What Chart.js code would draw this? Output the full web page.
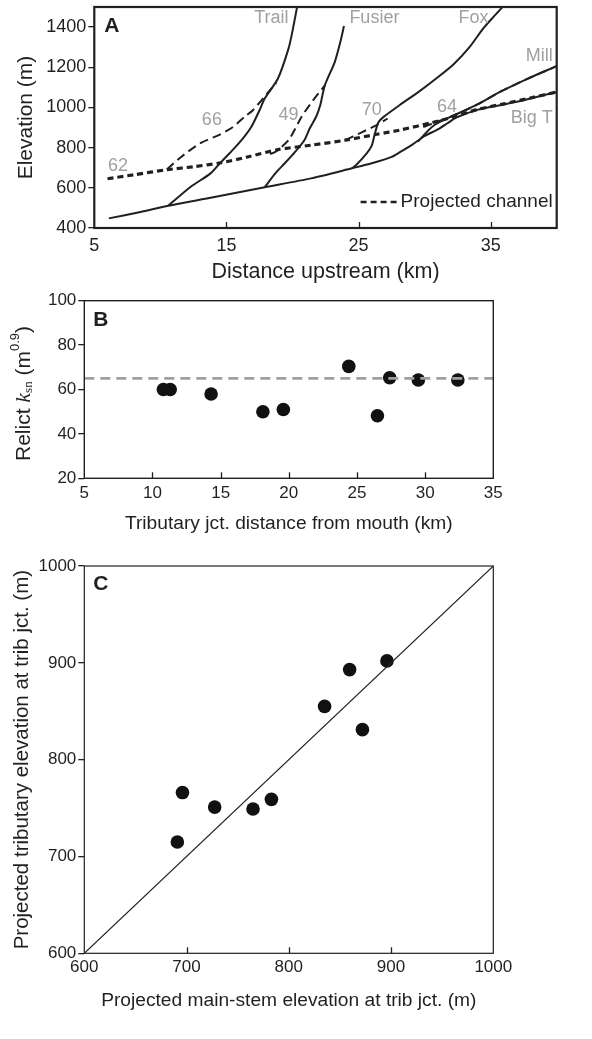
<!DOCTYPE html>
<html>
<head>
<meta charset="utf-8">
<script src="https://cdn.jsdelivr.net/npm/chart.js@4.4.1/dist/chart.umd.min.js"></script>
<style>
  html, body { margin: 0; padding: 0; background: #fff; }
  body { position: relative; width: 592px; height: 1039px; overflow: hidden; }
  canvas { position: absolute; left: 0; }
</style>
</head>
<body>
<canvas id="chartA" width="592" height="290" style="top:0"></canvas>
<canvas id="chartB" width="592" height="255" style="top:285px"></canvas>
<canvas id="chartC" width="592" height="499" style="top:540px"></canvas>
<script>
// Panel A: long profiles, [distance upstream (km), elevation (m)]
const mainStem = [[6.1,448],[8.5,480],[10.6,511],[14,553],[17.9,603],[21.4,647],[24.5,697],[26,722],[27.5,754],[28.1,776],[29.1,816],[30,858],[30.9,887],[31.7,920],[32.4,950],[34,988],[35.7,1011],[37.5,1036],[40,1077]];
const trail = [[10.6,511],[12.3,605],[13.8,672],[14.6,729],[15.5,790],[16.3,850],[16.9,905],[17.5,985],[17.9,1044],[18.9,1144],[19.7,1293],[20.0,1380],[20.35,1500]];
const fusier = [[17.9,603],[18.7,672],[19.4,721],[20.2,779],[20.9,837],[21.3,895],[21.8,955],[22.1,1011],[22.45,1110],[23.2,1226],[23.6,1320],[23.9,1405]];
const fox = [[24.5,697],[24.8,712],[25.6,770],[26.0,810],[26.2,860],[26.5,925],[26.9,953],[28.1,1011],[29.6,1080],[31.0,1150],[32.2,1215],[33.4,1300],[34.4,1390],[35.2,1450],[35.9,1500]];
const mill = [[29.5,830],[30.3,887],[30.8,915],[31.5,940],[32.2,960],[34,1015],[35.7,1077],[37.7,1140],[40,1206]];
const projMain = [[6,645],[8,665],[10.5,690],[12.5,705],[14.6,725],[16.5,752],[18.9,790],[21.4,812],[24,837],[26.5,868],[28.1,887],[30.6,925],[32.2,953],[34,990],[36,1018],[38,1047],[40,1077]];
const proj66 = [[10.5,692],[11.5,750],[13,821],[14.5,865],[15.5,903],[16.4,955],[17,986],[18.4,1094],[18.8,1120]];
const proj49 = [[18.3,768],[18.7,779],[19.7,837],[20.7,955],[21.5,1030],[22.45,1110]];
const proj70 = [[24,837],[25.2,875],[26.3,910],[27.2,945]];
const proj64 = [[29.9,903],[31,930],[32.2,960],[34,1015],[35.7,1077],[37.7,1140],[40,1206]];
const aTicksX = [5, 15, 25, 35];
const aTicksY = [400, 600, 800, 1000, 1200, 1400];

// Panel B: relict ksn vs tributary junction distance
const bDist = [10.8, 11.3, 14.3, 18.1, 19.6, 24.4, 26.5, 27.4, 29.5, 32.4];
const bKsn = [60, 60, 58, 50, 51, 70.4, 48.2, 65.3, 64.3, 64.3];
const bMeanKsn = 65;
const bTicksX = [5, 10, 15, 20, 25, 30, 35];
const bTicksY = [20, 40, 60, 80, 100];

// Panel C: projected elevations at tributary junctions
const cMain = [691, 696, 727.5, 765, 783, 835, 859.5, 872, 896];
const cTrib = [715, 766, 751, 749, 759, 855, 893, 831, 902];
const cTicks = [600, 700, 800, 900, 1000];

const FONT = '"Liberation Sans", Arial, Helvetica, sans-serif';
const INK = '#231f20';
const GREY = '#a0a0a0';

function fixBox(size, horizontal) {
  return function(scale) {
    if (horizontal) { scale.height = size; scale.paddingLeft = 0; scale.paddingRight = 0; }
    else { scale.width = size; scale.paddingTop = 0; scale.paddingBottom = 0; }
  };
}
function useTicks(values) {
  return function(scale) { scale.ticks = values.map(v => ({ value: v })); };
}

// frame, inward x ticks and panel letter
const framePlugin = {
  id: 'frame',
  afterDraw(chart, args, opts) {
    const { ctx, chartArea: a, scales } = chart;
    ctx.save();
    ctx.strokeStyle = INK;
    ctx.lineWidth = opts.width;
    ctx.strokeRect(a.left, a.top, a.right - a.left, a.bottom - a.top);
    ctx.lineWidth = 1.3;
    (opts.innerTicks || []).forEach(v => {
      const x = Math.round(scales.x.getPixelForValue(v)) + 0.5;
      ctx.beginPath();
      ctx.moveTo(x, a.bottom);
      ctx.lineTo(x, a.bottom - 6);
      ctx.stroke();
    });
    ctx.fillStyle = INK;
    ctx.font = 'bold 21px ' + FONT;
    ctx.textBaseline = 'alphabetic';
    ctx.fillText(opts.letter, a.left + opts.dx, a.top + opts.dy);
    ctx.restore();
  }
};

// grey stream names / ksn values and the legend of panel A
const aNotes = [
  { t: 'Trail', x: 18.4, y: 1445, align: 'center' },
  { t: 'Fusier', x: 26.2, y: 1445, align: 'center' },
  { t: 'Fox', x: 33.7, y: 1445, align: 'center' },
  { t: 'Mill', x: 39.7, y: 1258, align: 'right' },
  { t: 'Big T', x: 39.7, y: 945, align: 'right' },
  { t: '62', x: 6.8, y: 706, align: 'center' },
  { t: '66', x: 13.9, y: 937, align: 'center' },
  { t: '49', x: 19.7, y: 962, align: 'center' },
  { t: '70', x: 26.0, y: 987, align: 'center' },
  { t: '64', x: 31.7, y: 1004, align: 'center' }
];
const notesPlugin = {
  id: 'notes',
  afterDraw(chart) {
    const { ctx, chartArea: a, scales } = chart;
    ctx.save();
    ctx.fillStyle = GREY;
    ctx.font = '18px ' + FONT;
    ctx.textBaseline = 'middle';
    aNotes.forEach(n => {
      ctx.textAlign = n.align;
      ctx.fillText(n.t, scales.x.getPixelForValue(n.x), scales.y.getPixelForValue(n.y));
    });
    // legend
    const ly = a.bottom - 26;
    ctx.fillStyle = INK;
    ctx.textAlign = 'right';
    ctx.font = '19px ' + FONT;
    const label = 'Projected channel';
    const tx = a.right - 4;
    ctx.fillText(label, tx, ly);
    const w = ctx.measureText(label).width;
    ctx.strokeStyle = INK;
    ctx.lineWidth = 2.5;
    ctx.setLineDash([6, 4]);
    ctx.beginPath();
    ctx.moveTo(tx - w - 40, ly);
    ctx.lineTo(tx - w - 3, ly);
    ctx.stroke();
    ctx.restore();
  }
};

// B y-axis title with italic k, subscript and superscript
const bTitlePlugin = {
  id: 'btitle',
  afterDraw(chart) {
    const { ctx, chartArea: a } = chart;
    const parts = [
      { t: 'Relict ', f: '21px ' + FONT, dy: 0 },
      { t: 'k', f: 'italic 22px "Liberation Serif", serif', dy: 0 },
      { t: 'sn', f: '13px "Liberation Serif", serif', dy: 5 },
      { t: ' (m', f: '21px ' + FONT, dy: 0 },
      { t: '0.9', f: '13px ' + FONT, dy: -9 },
      { t: ')', f: '21px ' + FONT, dy: 0 }
    ];
    ctx.save();
    let total = 0;
    parts.forEach(p => { ctx.font = p.f; p.w = ctx.measureText(p.t).width; total += p.w; });
    ctx.translate(24, (a.top + a.bottom) / 2 + 4);
    ctx.rotate(-Math.PI / 2);
    ctx.fillStyle = INK;
    ctx.textBaseline = 'middle';
    let x = -total / 2;
    parts.forEach(p => {
      ctx.font = p.f;
      ctx.fillText(p.t, x, p.dy);
      x += p.w;
    });
    ctx.restore();
  }
};

function lineSet(data, width, dash) {
  return { data: data, borderColor: INK, borderWidth: width, borderDash: dash || [],
           pointRadius: 0, fill: false, tension: 0.25, borderCapStyle: 'butt' };
}

function yAxis(min, max, ticks, width, fontSize, title) {
  return {
    type: 'linear', min: min, max: max,
    afterFit: fixBox(width, false),
    afterBuildTicks: useTicks(ticks),
    border: { display: false },
    grid: { drawOnChartArea: false, drawTicks: true, tickLength: 6, color: INK, lineWidth: 1.3 },
    ticks: { color: INK, padding: 2, font: { family: FONT, size: fontSize }, callback: v => String(v) },
    title: title
  };
}
function xAxis(min, max, ticks, height, fontSize, pad, title) {
  return {
    type: 'linear', min: min, max: max,
    afterFit: fixBox(height, true),
    afterBuildTicks: useTicks(ticks),
    border: { display: false },
    grid: { display: false, drawTicks: false },
    ticks: { color: INK, padding: pad, maxRotation: 0, font: { family: FONT, size: fontSize }, callback: v => String(v) },
    title: title
  };
}

const common = { responsive: false, animation: false, devicePixelRatio: 1 };

new Chart(document.getElementById('chartA'), {
  type: 'line',
  data: {
    datasets: [
      lineSet(mainStem, 2), lineSet(trail, 2), lineSet(fusier, 2), lineSet(fox, 2), lineSet(mill, 2),
      lineSet(proj66, 2, [9, 5]), lineSet(proj49, 2, [9, 5]), lineSet(proj70, 2, [9, 5]), lineSet(proj64, 2, [9, 5]),
      lineSet(projMain, 3.2, [6, 4])
    ]
  },
  options: Object.assign({}, common, {
    layout: { padding: { left: 0, right: 35.3, top: 7, bottom: 0 } },
    plugins: { legend: { display: false }, tooltip: { enabled: false },
      frame: { width: 2.2, innerTicks: [15, 25, 35], letter: 'A', dx: 10, dy: 25 } },
    scales: {
      x: xAxis(5, 40, aTicksX, 62, 18, 7,
        { display: true, text: 'Distance upstream (km)', color: INK, font: { family: FONT, size: 21.5 }, padding: { top: 0, bottom: 5 } }),
      y: yAxis(400, 1500, aTicksY, 94.3, 18,
        { display: true, text: 'Elevation (m)', color: INK, font: { family: FONT, size: 21 }, padding: { top: 14, bottom: 0 } })
    }
  }),
  plugins: [framePlugin, notesPlugin]
});

new Chart(document.getElementById('chartB'), {
  type: 'scatter',
  data: {
    datasets: [
      { type: 'line', data: [{ x: 5, y: bMeanKsn }, { x: 35, y: bMeanKsn }], borderColor: GREY, borderWidth: 2.8,
        borderDash: [10, 6], pointRadius: 0 },
      { data: bDist.map((d, i) => ({ x: d, y: bKsn[i] })), backgroundColor: '#111', borderWidth: 0, pointRadius: 6.8 }
    ]
  },
  options: Object.assign({}, common, {
    layout: { padding: { left: 0, right: 98.7, top: 15.7, bottom: 0 } },
    plugins: { legend: { display: false }, tooltip: { enabled: false },
      frame: { width: 1.4, innerTicks: [10, 15, 20, 25, 30], letter: 'B', dx: 9, dy: 25 } },
    scales: {
      x: xAxis(5, 35, bTicksX, 61.7, 17, 5,
        { display: true, text: 'Tributary jct. distance from mouth (km)', color: INK, font: { family: FONT, size: 19.2 }, padding: { top: 0, bottom: 5 } }),
      y: yAxis(20, 100, bTicksY, 84.3, 17, { display: false })
    }
  }),
  plugins: [framePlugin, bTitlePlugin]
});

new Chart(document.getElementById('chartC'), {
  type: 'scatter',
  data: {
    datasets: [
      { type: 'line', data: [{ x: 600, y: 600 }, { x: 1000, y: 1000 }], borderColor: INK, borderWidth: 1.1, pointRadius: 0 },
      { data: cMain.map((m, i) => ({ x: m, y: cTrib[i] })), backgroundColor: '#111', borderWidth: 0, pointRadius: 6.8 }
    ]
  },
  options: Object.assign({}, common, {
    layout: { padding: { left: 0, right: 98.7, top: 26, bottom: 0 } },
    plugins: { legend: { display: false }, tooltip: { enabled: false },
      frame: { width: 1.2, innerTicks: [700, 800, 900], letter: 'C', dx: 9, dy: 24 } },
    scales: {
      x: xAxis(600, 1000, cTicks, 85.7, 17, 4,
        { display: true, text: 'Projected main-stem elevation at trib jct. (m)', color: INK, font: { family: FONT, size: 19.2 }, padding: { top: 0, bottom: 27 } }),
      y: yAxis(600, 1000, cTicks, 84.3, 17,
        { display: true, text: 'Projected tributary elevation at trib jct. (m)', color: INK, font: { family: FONT, size: 20.5 }, padding: { top: 10, bottom: 0 } })
    }
  }),
  plugins: [framePlugin]
});
</script>
</body>
</html>
